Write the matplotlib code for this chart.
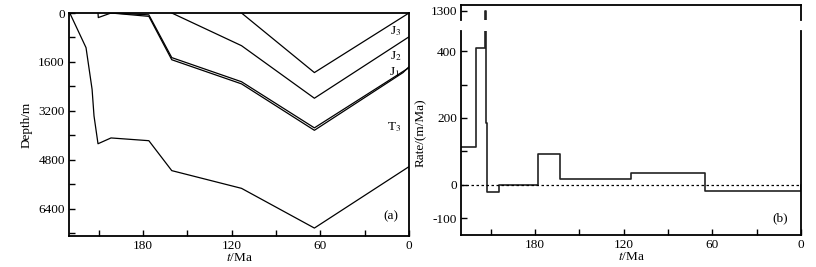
import numpy as np
import matplotlib
matplotlib.use("Agg")
import matplotlib.pyplot as plt

plt.rcParams['font.family'] = ['Liberation Serif', 'DejaVu Serif']
plt.rcParams['mathtext.fontset'] = 'stix'
plt.rcParams['font.size'] = 9.5

# burial history lines (t in Ma, depth in m)
t3_t = [229.5, 218.5, 214.4, 213.1, 210.4, 201.6, 176, 160.5, 113.3, 64, 0]
t3_d = [0, 1135, 2500, 3370, 4280, 4090, 4180, 5160, 5740, 7040, 5030]

j1a_t = [210.4, 210.2, 201.6, 176, 160.5, 113.3, 64, 0]
j1a_d = [0, 150, 0, 60, 1460, 2250, 3760, 1790]

j1b_t = [201.6, 176, 160.5, 113.3, 64, 4, 0]
j1b_d = [0, 110, 1530, 2320, 3840, 1950, 1760]

j2_t = [160.5, 113.3, 64, 0]
j2_d = [0, 1070, 2790, 780]

j3_t = [113.3, 64, 0]
j3_d = [0, 1950, 0]

# subsidence rate steps (edges in Ma, rate in m/Ma)
rate_edges = [230, 220, 213.6, 213.1, 212.2, 204, 178, 163, 115, 65, 0.3]
rate_vals = [113, 409, 1300, 185, -20, 0, 92, 18, 36, -18]

fig = plt.figure(figsize=(8.16, 2.67), dpi=100)

def style(ax):
    ax.tick_params(direction='in', length=4, width=1, pad=3, top=False, right=False)
    for s in ax.spines.values():
        s.set_linewidth(1.3)

# ---- panel (a)
ax = fig.add_axes([0.0846, 0.1161, 0.4166, 0.8352])
for tt, dd in [(t3_t, t3_d), (j1a_t, j1a_d), (j1b_t, j1b_d), (j2_t, j2_d), (j3_t, j3_d)]:
    ax.plot(tt, dd, color='black', lw=0.9)
ax.set_xlim(230, 0)
ax.set_ylim(7300, 0)
ax.set_xticks(np.arange(0, 211, 30))
ax.set_xticklabels([str(v) if v % 60 == 0 else '' for v in np.arange(0, 211, 30)])
ax.set_yticks(np.arange(0, 7201, 800))
ax.set_yticklabels([str(v) if v % 1600 == 0 else '' for v in np.arange(0, 7201, 800)])
ax.set_xlabel('$t$/Ma', labelpad=0)
ax.set_ylabel('Depth/m', labelpad=4)
style(ax)
ax.text(5, 580, 'J$_3$', ha='right', va='center')
ax.text(5, 1400, 'J$_2$', ha='right', va='center')
ax.text(6, 1950, 'J$_1$', ha='right', va='center')
ax.text(5, 3750, 'T$_3$', ha='right', va='center')
ax.text(7, 6650, '(a)', ha='right', va='center')

# ---- panel (b): broken axis
x = np.repeat(rate_edges, 2)[1:-1]
y = np.repeat(rate_vals, 2)
x = np.append(x, 0.3)
y = np.append(y, 0)

axb = fig.add_axes([0.565, 0.1199, 0.4166, 0.764])
axt = fig.add_axes([0.565, 0.9251, 0.4166, 0.0562])
for a in (axb, axt):
    a.plot(x, y, color='#222222', lw=1.2)
    a.set_xlim(230, 0)
    style(a)
axb.axhline(0, color='black', lw=0.9, ls=(0, (2, 2)))
axb.set_ylim(-150, 460)
axb.set_yticks([-100, 0, 100, 200, 300, 400])
axb.set_yticklabels(['-100', '0', '', '200', '', '400'])
axb.set_xticks(np.arange(0, 211, 30))
axb.set_xticklabels([str(v) if v % 60 == 0 else '' for v in np.arange(0, 211, 30)])
axb.spines['top'].set_visible(False)
axb.set_xlabel('$t$/Ma', labelpad=0)
axb.set_ylabel('Rate/(m/Ma)', labelpad=4)
axb.text(9, -100, '(b)', ha='right', va='center')

axt.set_ylim(1270, 1320)
axt.set_yticks([1300])
axt.set_xticks([])
axt.spines['bottom'].set_visible(False)

fig.savefig('out.png', dpi=100)
